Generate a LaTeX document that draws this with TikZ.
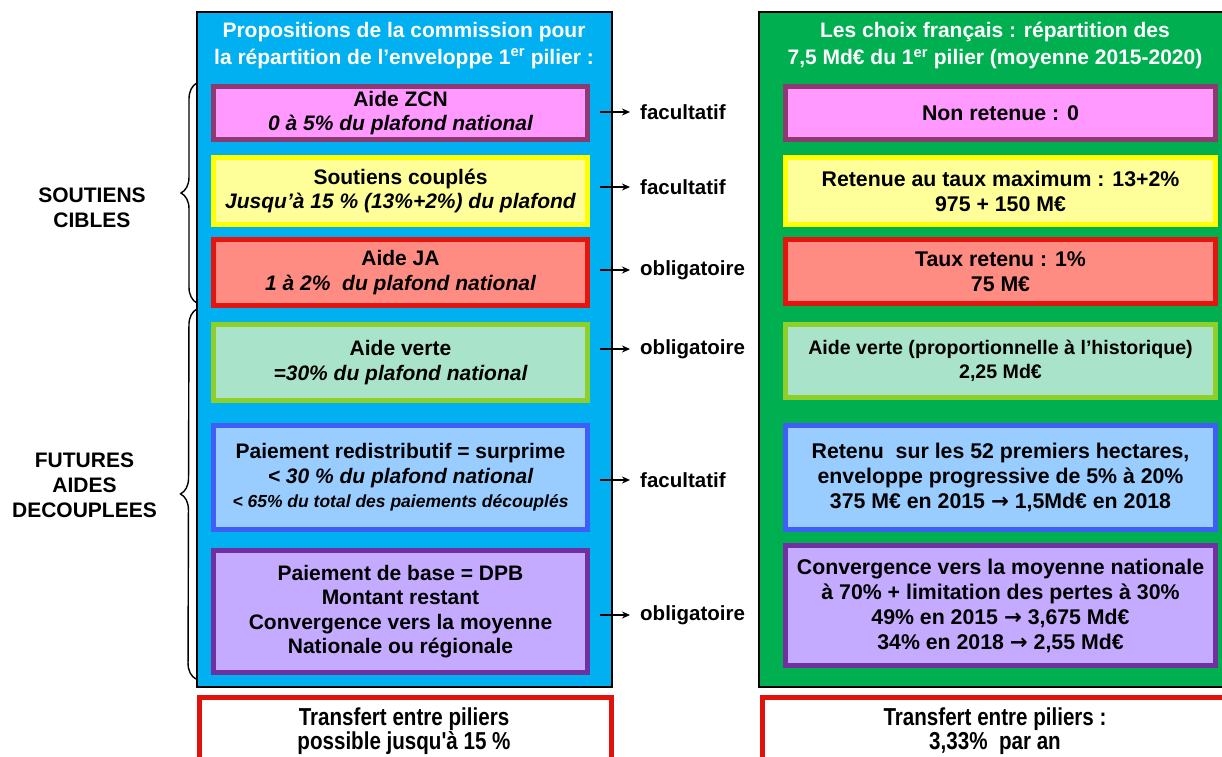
\documentclass[tikz,border=0pt]{standalone}
\usepackage{fontspec}
\setmainfont{Liberation Sans}
\newfontfamily\narrowfont[FakeStretch=0.84]{Liberation Sans}
\newfontfamily\arrowfont{DejaVu Sans}
\newcommand{\rarr}{{\arrowfont\bfseries →}}
\usetikzlibrary{decorations.pathreplacing,arrows.meta,calc}
\definecolor{blueP}{HTML}{00B0F0}
\definecolor{greenP}{HTML}{00B050}
\definecolor{pinkF}{HTML}{FF99FF}
\definecolor{pinkD}{HTML}{8E3A72}
\definecolor{yelF}{HTML}{FFFF99}
\definecolor{yelD}{HTML}{FFFF00}
\definecolor{redF}{HTML}{FF8C82}
\definecolor{redD}{HTML}{E3150E}
\definecolor{vertF}{HTML}{A9E3C9}
\definecolor{vertD}{HTML}{8FCF2A}
\definecolor{lbF}{HTML}{99CCFF}
\definecolor{lbD}{HTML}{3F5EF5}
\definecolor{purF}{HTML}{C4ABFF}
\definecolor{purD}{HTML}{7030A0}
\definecolor{botD}{HTML}{E0120B}
\tikzset{
  panel/.style={draw=black, line width=1.5pt},
  box/.style={line width=5pt, align=center, inner sep=0pt, text=black},
  lbox/.style={box, minimum width=374pt, font=\bfseries\fontsize{21}{24.5}\selectfont},
  rbox/.style={box, minimum width=430pt, font=\bfseries\fontsize{21.3}{25}\selectfont},
  title/.style={text=white, align=center, inner sep=0pt, font=\bfseries\fontsize{21}{27}\selectfont},
  lab/.style={inner sep=0pt, anchor=west, font=\bfseries\fontsize{20.5}{24}\selectfont},
  side/.style={inner sep=0pt, align=center, font=\bfseries\fontsize{21}{25}\selectfont},
  arr/.style={-{Stealth[length=8pt,width=7pt]}, line width=1.5pt},
  brc/.style={decorate, decoration={brace, amplitude=16pt}, line width=1.4pt},
  botbox/.style={draw=botD, fill=white, line width=5pt},
  bottxt/.style={inner sep=0pt, align=center, font=\narrowfont\bfseries\fontsize{24.5}{24}\selectfont}
}
\begin{document}
\begin{tikzpicture}[x=1pt, y=-1pt]
\useasboundingbox (0,0) rectangle (1222,756);
\fill[white] (0,0) rectangle (1222,756);
% panels
\draw[panel, fill=blueP] (197,12) rectangle (612,687);
\draw[panel, fill=greenP] (759,12) rectangle (1240,687);
% titles
\node[title] (tL) at (404,45.5) {Propositions de la commission pour\\la répartition de l’enveloppe 1\textsuperscript{er} pilier :};
\node[title] (tR) at (995,45.5) {Les choix français : répartition des\\7,5 Md€ du 1\textsuperscript{er} pilier (moyenne 2015-2020)};
% left boxes
\node[lbox, draw=pinkD, fill=pinkF, minimum height=53pt] (zcnL) at (400.5,113) {Aide ZCN\\\itshape 0 à 5\% du plafond national};
\node[lbox, draw=yelD, fill=yelF, minimum height=67pt] (coupL) at (400.5,191) {Soutiens couplés\\\itshape Jusqu’à 15 \% (13\%+2\%) du plafond};
\node[lbox, draw=redD, fill=redF, minimum height=66pt] (jaL) at (400.5,272.5) {Aide JA\\\itshape 1 à 2\%~ du plafond national};
\node[lbox, draw=vertD, fill=vertF, minimum height=76pt] (verteL) at (400.5,362.5) {Aide verte\\\itshape =30\% du plafond national};
\node[lbox, draw=lbD, fill=lbF, minimum height=104pt] (redisL) at (400.5,477.5) {Paiement redistributif = surprime\\\itshape < 30 \% du plafond national\\\itshape\fontsize{17.5}{21}\selectfont < 65\% du total des paiements découplés};
\node[lbox, draw=purD, fill=purF, minimum height=122pt] (baseL) at (400.5,611.5) {Paiement de base = DPB\\Montant restant\\Convergence vers la moyenne\\Nationale ou régionale};
% right boxes
\node[rbox, draw=pinkD, fill=pinkF, minimum height=53pt] (zcnR) at (1000.5,113) {Non retenue : 0};
\node[rbox, draw=yelD, fill=yelF, minimum height=67pt] (coupR) at (1000.5,191) {Retenue au taux maximum : 13+2\%\\975 + 150 M€};
\node[rbox, draw=redD, fill=redF, minimum height=64pt] (jaR) at (1000.5,271.5) {Taux retenu : 1\%\\75 M€};
\node[rbox, draw=vertD, fill=vertF, minimum height=73pt, font=\bfseries\fontsize{19.6}{24}\selectfont] (verteR) at (1000.5,361) {Aide verte (proportionnelle à l’historique)\\2,25 Md€};
\node[rbox, draw=lbD, fill=lbF, minimum height=104pt] (redisR) at (1000.5,477.5) {Retenu~ sur les 52 premiers hectares,\\enveloppe progressive de 5\% à 20\%\\375 M€ en 2015 \rarr{} 1,5Md€ en 2018};
\node[rbox, draw=purD, fill=purF, minimum height=120pt] (baseR) at (1000.5,605.5) {Convergence vers la moyenne nationale\\à 70\% + limitation des pertes à 30\%\\49\% en 2015 \rarr{} 3,675 Md€\\34\% en 2018 \rarr{} 2,55 Md€};
% labels and arrows
\node[lab] (l1) at (640,112) {facultatif};
\node[lab] (l2) at (640,187) {facultatif};
\node[lab] (l3) at (640,270) {obligatoire};
\node[lab] (l4) at (640,349) {obligatoire};
\node[lab] (l5) at (640,480) {facultatif};
\node[lab] (l6) at (640,615) {obligatoire};
\foreach \b/\l in {zcnL/l1, coupL/l2, jaL/l3, verteL/l4, redisL/l5, baseL/l6}{
  \draw[arr] ($(\b.east |- \l.west)+(10,0)$) -- ($(\l.west)+(-10,0)$);
}
% braces and side labels
\coordinate (b1t) at (197,83);
\coordinate (b1b) at (197,303);
\coordinate (b2t) at (197,309);
\coordinate (b2b) at (196,679);
\draw[brc] (b1b) -- (b1t);
\draw[brc] (b2b) -- (b2t);
\node[side] (s1) at (92,207.5) {SOUTIENS\\CIBLES};
\node[side] (s2) at (84.5,485) {FUTURES\\AIDES\\DECOUPLEES};
% bottom boxes
\draw[botbox] (199.5,697.5) rectangle (611.5,780);
\draw[botbox] (762.5,697.5) rectangle (1240,780);
\node[bottxt] (bL) at (404,731) {Transfert entre piliers\\possible jusqu'à 15 \%};
\node[bottxt] (bR) at (995,731) {Transfert entre piliers :\\3,33\%~ par an};
\end{tikzpicture}
\end{document}
